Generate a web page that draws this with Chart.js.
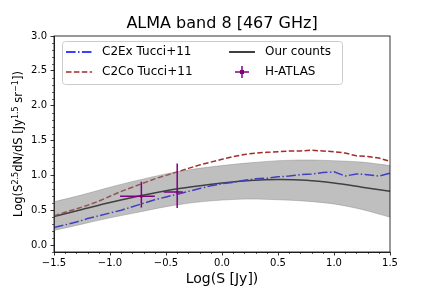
<!DOCTYPE html>
<html>
<head>
<meta charset="utf-8">
<script src="https://cdn.jsdelivr.net/npm/chart.js@4/dist/chart.umd.min.js"></script>
<style>
  html, body { margin: 0; padding: 0; background: #fff; }
  #wrap { width: 432px; height: 288px; }
</style>
</head>
<body>
<div id="wrap"><canvas id="chart" width="432" height="288"></canvas></div>
<script>
// Tucci+11 model curves, sampled every 0.1 in Log(S)
const xFine = [-1.5,-1.4,-1.3,-1.2,-1.1,-1.0,-0.9,-0.8,-0.7,-0.6,-0.5,-0.4,-0.3,-0.2,-0.1,0.0,
               0.1,0.2,0.3,0.4,0.5,0.6,0.7,0.8,0.9,1.0,1.1,1.2,1.3,1.4,1.5]
const c2exY = [0.25,0.29,0.33,0.38,0.42,0.46,0.50,0.55,0.60,0.65,0.69,0.73,0.77,0.81,0.85,0.88,
               0.90,0.93,0.95,0.96,0.98,0.99,1.01,1.02,1.04,1.05,0.99,1.02,1.01,0.99,1.03]
const c2coY = [0.42,0.47,0.52,0.57,0.63,0.70,0.77,0.83,0.89,0.95,1.00,1.05,1.10,1.15,1.19,1.23,
               1.27,1.30,1.32,1.33,1.34,1.35,1.35,1.36,1.35,1.34,1.32,1.28,1.27,1.25,1.20]

// our counts with the grey uncertainty band
const xModel = [-1.5,-1.25,-1.0,-0.75,-0.5,-0.25,0.0,0.25,0.5,0.75,1.0,1.25,1.5]
const oursY    = [0.41,0.51,0.61,0.70,0.78,0.84,0.89,0.925,0.94,0.93,0.89,0.83,0.77]
const oursLow  = [0.21,0.30,0.39,0.47,0.55,0.61,0.645,0.66,0.65,0.63,0.59,0.51,0.40]
const oursHigh = [0.62,0.72,0.83,0.93,1.02,1.09,1.14,1.18,1.21,1.22,1.21,1.19,1.14]

// H-ATLAS points with asymmetric errors
const atlasX   = [-0.72, -0.40]
const atlasY   = [0.70, 0.76]
const atlasXLo = [0.19, 0.12]
const atlasXHi = [0.12, 0.05]
const atlasYLo = [0.16, 0.23]
const atlasYHi = [0.21, 0.41]

const xTicks = [-1.5,-1.0,-0.5,0.0,0.5,1.0,1.5]
const yTicks = [0.0,0.5,1.0,1.5,2.0,2.5,3.0]

const FONT = '"DejaVu Sans", sans-serif'
const BLUE = '#0000ff', BROWN = '#a52a2a', PURPLE = '#800080'
const BAND = 'rgba(128,128,128,0.5)'
const dashDot = [9.6, 2.4, 1.5, 2.4]
const dashed = [5.5, 2.4]

const pts = (xs, ys) => xs.map((v, i) => ({x: v, y: ys[i]}))
const fmt = v => (v < 0 ? '\u2212' : '') + Math.abs(v).toFixed(1)

const extras = {
    id: 'extras',
    afterDatasetsDraw(chart) {
        const {ctx, scales: {x, y}} = chart
        ctx.save()
        ctx.strokeStyle = PURPLE
        ctx.lineWidth = 1.5
        atlasX.forEach((xv, i) => {
            const px = x.getPixelForValue(xv), py = y.getPixelForValue(atlasY[i])
            ctx.beginPath()
            ctx.moveTo(x.getPixelForValue(xv - atlasXLo[i]), py)
            ctx.lineTo(x.getPixelForValue(xv + atlasXHi[i]), py)
            ctx.moveTo(px, y.getPixelForValue(atlasY[i] - atlasYLo[i]))
            ctx.lineTo(px, y.getPixelForValue(atlasY[i] + atlasYHi[i]))
            ctx.stroke()
        })
        ctx.restore()
    },
    afterDraw(chart) {
        const {ctx, chartArea: a, scales: {x, y}} = chart
        ctx.save()
        // frame
        ctx.strokeStyle = '#000'
        ctx.lineWidth = 0.8
        ctx.strokeRect(a.left, a.top, a.right - a.left, a.bottom - a.top)
        // minor ticks every 0.1
        ctx.lineWidth = 0.6
        ctx.beginPath()
        for (let k = -15; k <= 15; k++) {
            if (k % 5 === 0) continue
            const px = Math.round(x.getPixelForValue(k / 10)) + 0.5
            ctx.moveTo(px, a.bottom); ctx.lineTo(px, a.bottom + 2)
        }
        for (let k = -1; k <= 30; k++) {
            if (k % 5 === 0) continue
            const py = Math.round(y.getPixelForValue(k / 10)) + 0.5
            ctx.moveTo(a.left, py); ctx.lineTo(a.left - 2, py)
        }
        ctx.stroke()

        // title and axis labels
        ctx.fillStyle = '#000'
        ctx.textAlign = 'center'
        ctx.textBaseline = 'alphabetic'
        const cx = (a.left + a.right) / 2
        ctx.font = '16px ' + FONT
        ctx.fillText('ALMA band 8 [467 GHz]', cx, 28)
        ctx.font = '14px ' + FONT
        ctx.fillText('Log(S [Jy])', cx, 283)

        // y label with superscripts
        const fs = 11.5
        const parts = [['Log(S', 0], ['2.5', 1], ['dN/dS [Jy', 0], ['1.5', 1], [' sr', 0], ['\u22121', 1], ['])', 0]]
        ctx.save()
        ctx.translate(22, (a.top + a.bottom) / 2)
        ctx.rotate(-Math.PI / 2)
        ctx.textAlign = 'left'
        let total = 0
        parts.forEach(([t, s]) => {
            ctx.font = (s ? fs * 0.7 : fs) + 'px ' + FONT
            total += ctx.measureText(t).width
        })
        let px = -total / 2
        parts.forEach(([t, s]) => {
            ctx.font = (s ? fs * 0.7 : fs) + 'px ' + FONT
            ctx.fillText(t, px, s ? -fs * 0.38 : 0)
            px += ctx.measureText(t).width
        })
        ctx.restore()

        // legend
        const L = {x: 62, y: 41, w: 280, h: 43}
        ctx.beginPath()
        ctx.roundRect(L.x + 0.5, L.y + 0.5, L.w, L.h, 3)
        ctx.fillStyle = 'rgba(255,255,255,0.8)'
        ctx.fill()
        ctx.strokeStyle = '#cccccc'
        ctx.lineWidth = 1
        ctx.stroke()

        const rows = [52, 72]
        const handle = (x0, yy, color, dash) => {
            ctx.beginPath()
            ctx.setLineDash(dash)
            ctx.strokeStyle = color
            ctx.lineWidth = 1.5
            ctx.moveTo(x0, yy); ctx.lineTo(x0 + 26, yy)
            ctx.stroke()
            ctx.setLineDash([])
        }
        handle(66, rows[0], BLUE, dashDot)
        handle(66, rows[1], BROWN, dashed)
        handle(229, rows[0], '#000', [])
        // errorbar handle
        ctx.strokeStyle = PURPLE
        ctx.lineWidth = 1.5
        ctx.beginPath()
        ctx.moveTo(235, rows[1]); ctx.lineTo(249, rows[1])
        ctx.moveTo(242, rows[1] - 6); ctx.lineTo(242, rows[1] + 6)
        ctx.stroke()
        ctx.fillStyle = PURPLE
        ctx.fillRect(240, rows[1] - 2, 4, 4)

        ctx.fillStyle = '#000'
        ctx.font = '12px ' + FONT
        ctx.textAlign = 'left'
        ctx.textBaseline = 'middle'
        ctx.fillText('C2Ex Tucci+11', 102, rows[0])
        ctx.fillText('C2Co Tucci+11', 102, rows[1])
        ctx.fillText('Our counts', 265, rows[0])
        ctx.fillText('H-ATLAS', 265, rows[1])
        ctx.restore()
    }
}

new Chart(document.getElementById('chart'), {
    type: 'line',
    data: {
        datasets: [
            {label: 'upper', data: pts(xModel, oursHigh), borderColor: BAND, borderWidth: 0.8,
             backgroundColor: BAND, fill: '+1', pointRadius: 0, tension: 0.3},
            {label: 'lower', data: pts(xModel, oursLow), borderColor: BAND, borderWidth: 0.8,
             fill: false, pointRadius: 0, tension: 0.3},
            {label: 'C2Ex Tucci+11', data: pts(xFine, c2exY), borderColor: BLUE, borderWidth: 1.5,
             borderDash: dashDot, pointRadius: 0, fill: false},
            {label: 'C2Co Tucci+11', data: pts(xFine, c2coY), borderColor: BROWN, borderWidth: 1.5,
             borderDash: dashed, pointRadius: 0, fill: false},
            {label: 'Our counts', data: pts(xModel, oursY), borderColor: '#000', borderWidth: 1.5,
             pointRadius: 0, fill: false, tension: 0.3},
            {type: 'scatter', label: 'H-ATLAS', data: pts(atlasX, atlasY), pointStyle: 'rect',
             pointRadius: 2, backgroundColor: PURPLE, borderColor: PURPLE, borderWidth: 0}
        ]
    },
    options: {
        responsive: false,
        animation: false,
        devicePixelRatio: 1,
        layout: {padding: {top: 36, right: 42, left: 0, bottom: 0}},
        plugins: {legend: {display: false}, tooltip: {enabled: false}},
        scales: {
            x: {
                type: 'linear', min: -1.5, max: 1.5,
                afterFit: s => { s.height = 36 },
                afterBuildTicks: s => { s.ticks = xTicks.map(v => ({value: v})) },
                grid: {drawOnChartArea: false, drawTicks: true, tickLength: 3.5, color: '#000', lineWidth: 0.8},
                border: {display: true, color: '#000', width: 0.8},
                ticks: {color: '#000', font: {family: FONT, size: 10}, padding: 2, maxRotation: 0,
                        callback: v => fmt(v)}
            },
            y: {
                type: 'linear', min: -0.1, max: 3.0,
                afterFit: s => { s.width = 54 },
                afterBuildTicks: s => { s.ticks = yTicks.map(v => ({value: v})) },
                grid: {drawOnChartArea: false, drawTicks: true, tickLength: 3.5, color: '#000', lineWidth: 0.8},
                border: {display: true, color: '#000', width: 0.8},
                ticks: {color: '#000', font: {family: FONT, size: 10}, padding: 3.5,
                        callback: v => fmt(v)}
            }
        }
    },
    plugins: [extras]
})
</script>
</body>
</html>
